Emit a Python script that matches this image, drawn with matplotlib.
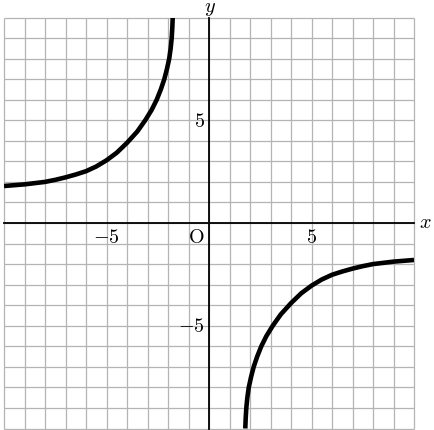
import matplotlib
matplotlib.use('Agg')
import matplotlib.pyplot as plt

# Curve points
left_x = [-10, -9.5, -9, -8.5, -8, -7.5, -7, -6.5, -6, -5.5, -5, -4.5, -4,
          -3.5, -3.11, -2.8, -2.55, -2.35, -2.18, -2.05, -1.94, -1.87, -1.82, -1.79, -1.77]
left_y = [1.8, 1.84, 1.88, 1.94, 2.0, 2.1, 2.22, 2.36, 2.52, 2.75, 3.05, 3.42, 3.9,
          4.45, 5, 5.5, 6, 6.5, 7, 7.5, 8, 8.5, 9, 9.5, 10]
right_x = [1.77, 1.79, 1.82, 1.87, 1.94, 2.05, 2.18, 2.35, 2.55, 2.8, 3.11, 3.5,
           4, 4.5, 5, 5.5, 6, 6.5, 7, 7.5, 8, 8.5, 9, 9.5, 10]
right_y = [-10, -9.5, -9, -8.5, -8, -7.5, -7, -6.5, -6, -5.5, -5, -4.45,
           -3.9, -3.42, -3.05, -2.75, -2.52, -2.36, -2.22, -2.1, -2.0, -1.94, -1.88, -1.84, -1.8]

grid_vals = list(range(-10, 11))
x_tick_labels = {-5: '$-5$', 5: '$5$'}
y_tick_labels = {5: '$5$', -5: '$-5$'}

plt.rcParams['mathtext.fontset'] = 'cm'
plt.rcParams['font.family'] = 'DejaVu Serif'

fig = plt.figure(figsize=(4.34, 4.31), dpi=100)
ax = fig.add_axes([4 / 434, 1.5 / 431, 410 / 434, 411 / 431])
ax.set_xlim(-10, 10)
ax.set_ylim(-10, 10)
ax.axis('off')

# grid
ax.vlines(grid_vals, -10, 10, colors='#b4b4b4', linewidth=0.9, clip_on=False, zorder=1)
ax.hlines(grid_vals, -10, 10, colors='#b4b4b4', linewidth=0.9, clip_on=False, zorder=1)

# axes
ax.plot([-10, 10], [0, 0], color='black', linewidth=1.3, clip_on=False, zorder=2)
ax.plot([0, 0], [-10, 10], color='black', linewidth=1.3, clip_on=False, zorder=2)

# curve
ax.plot(left_x, left_y, color='black', linewidth=3.3, solid_capstyle='butt',
        solid_joinstyle='round', zorder=3)
ax.plot(right_x, right_y, color='black', linewidth=3.3, solid_capstyle='butt',
        solid_joinstyle='round', zorder=3)

fs = 14.5
for v, s in x_tick_labels.items():
    ax.text(v, -0.2, s, ha='center', va='top', fontsize=fs)
for v, s in y_tick_labels.items():
    ax.text(-0.2, v, s, ha='right', va='center', fontsize=fs)
ax.text(-0.2, -0.2, r'$\mathrm{O}$', ha='right', va='top', fontsize=fs)
ax.text(10.25, 0.05, '$x$', ha='left', va='center', fontsize=fs)
ax.text(0.05, 10.5, '$y$', ha='center', va='center', fontsize=fs)

fig.savefig('out.png', dpi=100)
